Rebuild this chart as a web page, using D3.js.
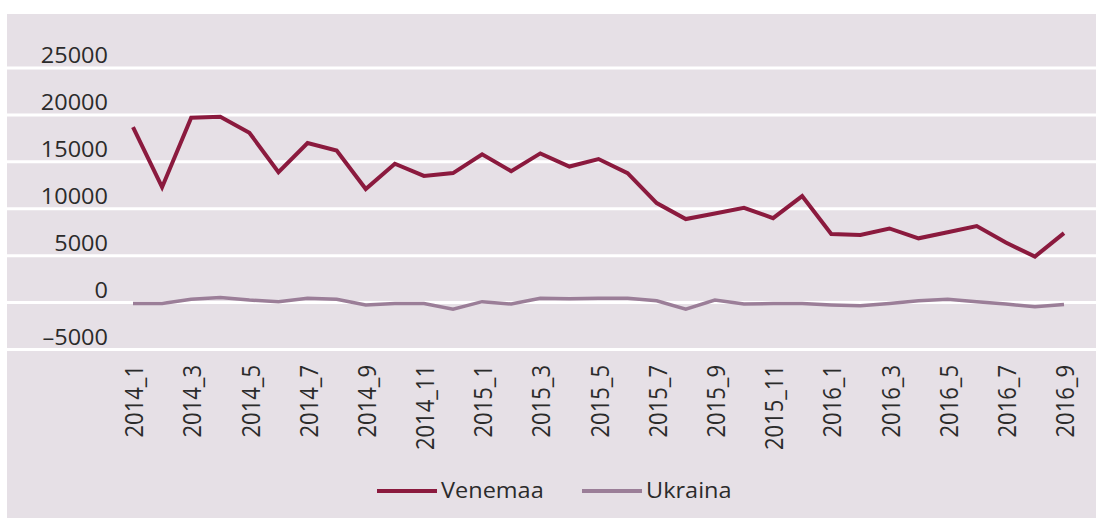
<!DOCTYPE html>
<html>
<head>
<meta charset="utf-8">
<script src="https://cdn.jsdelivr.net/npm/d3@7"></script>
<style>
  body { margin: 0; background: #fff; }
  text { font-family: "Open Sans", sans-serif; fill: #2b2b2b; }
</style>
</head>
<body>
<div id="chart"></div>
<script>
// months 2014_1 .. 2016_9
const months = [
  "2014_1","2014_2","2014_3","2014_4","2014_5","2014_6","2014_7","2014_8","2014_9","2014_10","2014_11","2014_12",
  "2015_1","2015_2","2015_3","2015_4","2015_5","2015_6","2015_7","2015_8","2015_9","2015_10","2015_11","2015_12",
  "2016_1","2016_2","2016_3","2016_4","2016_5","2016_6","2016_7","2016_8","2016_9"
];
const venemaa = [
  18700, 12300, 19700, 19800, 18100, 13900, 17000, 16200, 12100, 14800, 13500, 13800,
  15800, 14000, 15900, 14500, 15300, 13800, 10600, 8900, 9500, 10100, 9000, 11350,
  7300, 7200, 7900, 6850, 7500, 8150, 6400, 4900, 7400
];
const ukraina = [
  -100, -100, 350, 550, 270, 100, 450, 350, -250, -100, -100, -700,
  100, -150, 450, 400, 450, 450, 200, -700, 270, -150, -100, -100,
  -250, -350, -100, 200, 350, 100, -150, -450, -200
];
const yTicks = [-5000, 0, 5000, 10000, 15000, 20000, 25000];
const seriesNames = ["Venemaa", "Ukraina"];
const seriesColors = ["#8b1a3e", "#9b7e98"];

const width = 1096, height = 518;
const stretch = 1.12; // text in the picture is a bit wider than normal

const svg = d3.select("#chart").append("svg")
  .attr("width", width)
  .attr("height", height);

// panel background
svg.append("rect")
  .attr("x", 7).attr("y", 14)
  .attr("width", width - 7).attr("height", height - 14)
  .attr("fill", "#e6e0e6");

const x = d3.scalePoint().domain(months).range([133, 1064]);
const y = d3.scaleLinear().domain([-5000, 25000]).range([349.5, 68]);

// gridlines
svg.append("g")
  .selectAll("line")
  .data(yTicks)
  .enter().append("line")
  .attr("x1", 7).attr("x2", width)
  .attr("y1", d => y(d)).attr("y2", d => y(d))
  .attr("stroke", "#fff")
  .attr("stroke-width", 3);

// y labels sit above their gridline
svg.append("g")
  .selectAll("text")
  .data(yTicks)
  .enter().append("text")
  .attr("transform", d => `translate(108,${y(d) - 5}) scale(${stretch},1)`)
  .attr("text-anchor", "end")
  .style("font-size", "21px")
  .text(d => d < 0 ? "\u2013" + Math.abs(d) : d);

// x labels, every second month
svg.append("g")
  .selectAll("text")
  .data(months.filter((d, i) => i % 2 === 0))
  .enter().append("text")
  .attr("transform", d => `translate(${x(d) + 1.5},365) scale(${stretch},1) rotate(-90)`)
  .attr("text-anchor", "end")
  .attr("dy", "0.35em")
  .style("font-size", "22px")
  .text(d => d);

const line = d3.line()
  .x((d, i) => x(months[i]))
  .y(d => y(d));

[ukraina, venemaa].forEach((vals, k) => {
  const color = k === 0 ? seriesColors[1] : seriesColors[0];
  svg.append("path")
    .datum(vals)
    .attr("d", line)
    .attr("fill", "none")
    .attr("stroke", color)
    .attr("stroke-width", k === 0 ? 3.5 : 4)
    .attr("stroke-linejoin", "miter");
});

// legend
const legendX = [377, 582];
const legend = svg.append("g");
seriesNames.forEach((name, i) => {
  legend.append("line")
    .attr("x1", legendX[i]).attr("x2", legendX[i] + 60)
    .attr("y1", 491).attr("y2", 491)
    .attr("stroke", seriesColors[i])
    .attr("stroke-width", 4);
  legend.append("text")
    .attr("transform", `translate(${legendX[i] + 64},498) scale(${stretch},1)`)
    .style("font-size", "21px")
    .text(name);
});
</script>
</body>
</html>
